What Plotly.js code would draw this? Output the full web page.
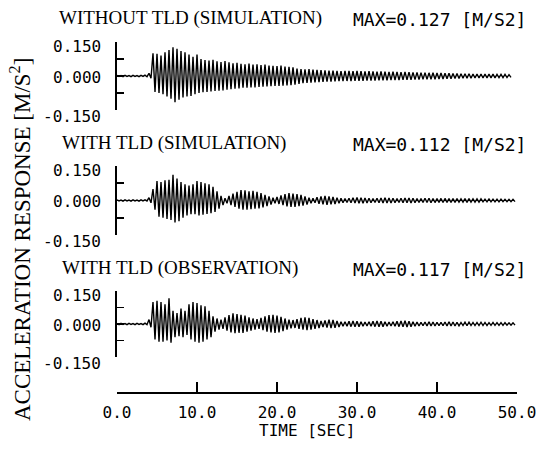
<!DOCTYPE html>
<html><head><meta charset="utf-8">
<script src="https://cdn.plot.ly/plotly-3.0.1.min.js"></script>
<style>html,body{margin:0;padding:0;background:#fff}#g{width:548px;height:450px}</style>
</head><body><div id="g"></div>
<script>
// ---- data ----
const PERIOD = 0.5; // seconds per oscillation cycle (peak + trough)
const panelTitles = ["WITHOUT TLD (SIMULATION)", "WITH TLD (SIMULATION)", "WITH TLD (OBSERVATION)"];
const maxLabels = ["MAX=0.127 [M/S2]", "MAX=0.112 [M/S2]", "MAX=0.117 [M/S2]"];
const yTickVals = [-0.15, -0.075, 0, 0.075, 0.15];
const yLabelText = ["0.150", "0.000", "-0.150"];
const xTickVals = [0, 10, 20, 30, 40, 50];
const xTickText = ["0.0", "10.0", "20.0", "30.0", "40.0", "50.0"];

// positive peaks / negative troughs per cycle [m/s2]
const up1 = [0.003,0.002,0.003,0.002,0.003,0.002,0.003,0.004,0.012,
 0.100,0.098,0.090,0.105,0.115,0.127,0.120,0.110,0.105,0.095,0.085,
 0.095,0.075,0.070,0.068,0.072,0.065,0.062,0.066,0.060,0.056,
 0.058,0.054,0.052,0.055,0.050,0.052,0.048,0.050,0.046,0.045,
 0.044,0.046,0.042,0.040,0.038,0.033,0.030,0.029,0.030,0.028,
 0.027,0.026,0.025,0.024,0.024,0.023,0.022,0.023,0.022,0.021,
 0.022,0.021,0.020,0.021,0.020,0.019,0.020,0.019,0.018,0.019,
 0.018,0.017,0.018,0.017,0.016,0.016,0.015,0.015,0.014,0.014,
 0.013,0.013,0.012,0.012,0.011,0.011,0.010,0.010,0.010,0.009,
 0.009,0.009,0.008,0.008,0.008,0.007,0.007,0.007,0.006];
const dn1 = [0.002,0.003,0.002,0.003,0.002,0.003,0.002,0.003,0.010,
 0.070,0.075,0.080,0.090,0.100,0.116,0.105,0.095,0.090,0.088,0.080,
 0.075,0.072,0.070,0.068,0.066,0.065,0.064,0.060,0.058,0.056,
 0.055,0.052,0.052,0.050,0.050,0.048,0.047,0.046,0.045,0.044,
 0.044,0.043,0.042,0.040,0.038,0.035,0.032,0.030,0.029,0.028,
 0.027,0.026,0.025,0.025,0.024,0.023,0.023,0.022,0.022,0.021,
 0.021,0.021,0.020,0.020,0.020,0.019,0.019,0.019,0.018,0.018,
 0.018,0.017,0.017,0.017,0.016,0.016,0.015,0.015,0.014,0.014,
 0.013,0.013,0.012,0.012,0.011,0.011,0.010,0.010,0.010,0.009,
 0.009,0.009,0.008,0.008,0.008,0.007,0.007,0.007,0.006];

const up2 = [0.003,0.002,0.003,0.002,0.003,0.002,0.003,0.003,0.012,
 0.050,0.085,0.080,0.088,0.090,0.112,0.095,0.080,0.070,0.065,0.070,
 0.085,0.080,0.075,0.070,0.060,0.040,0.020,0.010,0.020,0.030,
 0.038,0.045,0.044,0.040,0.042,0.038,0.032,0.025,0.018,0.012,
 0.015,0.022,0.028,0.032,0.030,0.028,0.024,0.018,0.012,0.010,
 0.014,0.018,0.020,0.018,0.015,0.012,0.010,0.009,0.010,0.012,
 0.013,0.012,0.011,0.010,0.009,0.010,0.011,0.012,0.011,0.010,
 0.009,0.010,0.011,0.011,0.010,0.009,0.009,0.010,0.010,0.009,
 0.008,0.009,0.009,0.008,0.008,0.008,0.007,0.008,0.008,0.007,
 0.007,0.007,0.006,0.007,0.006,0.006,0.006,0.005,0.005,0.005];
const dn2 = [0.002,0.003,0.002,0.003,0.002,0.003,0.002,0.002,0.010,
 0.040,0.070,0.075,0.080,0.085,0.095,0.090,0.075,0.065,0.060,0.060,
 0.065,0.062,0.058,0.055,0.050,0.035,0.020,0.012,0.020,0.028,
 0.035,0.040,0.040,0.038,0.036,0.034,0.030,0.024,0.018,0.012,
 0.015,0.020,0.026,0.028,0.028,0.025,0.022,0.018,0.012,0.010,
 0.014,0.017,0.019,0.017,0.015,0.012,0.010,0.009,0.010,0.011,
 0.012,0.012,0.011,0.010,0.009,0.010,0.011,0.011,0.011,0.010,
 0.009,0.010,0.010,0.011,0.010,0.009,0.009,0.009,0.010,0.009,
 0.008,0.009,0.008,0.008,0.008,0.007,0.007,0.008,0.007,0.007,
 0.007,0.006,0.006,0.006,0.006,0.006,0.005,0.005,0.005,0.005];

const up3 = [0.002,0.003,0.002,0.003,0.002,0.003,0.002,0.004,0.020,
 0.100,0.105,0.100,0.090,0.117,0.060,0.050,0.070,0.060,0.090,0.100,
 0.095,0.085,0.080,0.060,0.035,0.025,0.020,0.030,0.040,0.048,
 0.045,0.042,0.038,0.030,0.025,0.022,0.028,0.035,0.040,0.042,
 0.038,0.032,0.025,0.020,0.018,0.022,0.028,0.030,0.028,0.022,
 0.018,0.014,0.016,0.020,0.018,0.014,0.010,0.010,0.012,0.014,
 0.012,0.010,0.009,0.010,0.012,0.014,0.012,0.010,0.009,0.010,
 0.012,0.014,0.015,0.013,0.010,0.009,0.008,0.009,0.010,0.009,
 0.008,0.008,0.009,0.010,0.009,0.008,0.007,0.008,0.008,0.007,
 0.007,0.008,0.007,0.006,0.007,0.006,0.006,0.006,0.005,0.005];
const dn3 = [0.003,0.002,0.003,0.002,0.003,0.002,0.003,0.003,0.015,
 0.070,0.080,0.080,0.075,0.085,0.060,0.055,0.060,0.050,0.070,0.080,
 0.085,0.080,0.070,0.060,0.035,0.025,0.022,0.030,0.038,0.042,
 0.040,0.040,0.035,0.030,0.025,0.022,0.028,0.035,0.038,0.040,
 0.038,0.032,0.025,0.020,0.018,0.022,0.026,0.028,0.026,0.022,
 0.018,0.014,0.016,0.019,0.017,0.014,0.010,0.010,0.012,0.013,
 0.012,0.010,0.009,0.010,0.012,0.013,0.012,0.010,0.009,0.010,
 0.012,0.013,0.014,0.012,0.010,0.009,0.008,0.009,0.009,0.009,
 0.008,0.008,0.009,0.009,0.009,0.008,0.007,0.008,0.007,0.007,
 0.007,0.007,0.007,0.006,0.006,0.006,0.006,0.005,0.005,0.005];

// ---- layout helpers (pixel -> paper) ----
const W = 548, H = 450, ML = 117, MR = 31, PW = W - ML - MR;
const fx = p => (p - ML) / PW;
const fy = p => 1 - p / H;

function wave(up, dn) {
  const x = [], y = [];
  for (let i = 0; i < up.length; i++) {
    x.push(i * PERIOD); y.push(up[i]);
    x.push(i * PERIOD + PERIOD / 2); y.push(-dn[i]);
  }
  return {x, y};
}

const series = [[up1, dn1], [up2, dn2], [up3, dn3]];
const yRefs = ["y", "y2", "y3"];
const traces = series.map((s, k) => {
  const w = wave(s[0], s[1]);
  return {x: w.x, y: w.y, xaxis: "x", yaxis: yRefs[k], type: "scatter", mode: "lines",
          line: {color: "#000", width: 1.4}, hoverinfo: "skip", showlegend: false};
});

const serif = "Liberation Serif, Times New Roman, serif";
const plotter = "DejaVu Sans Mono, monospace";
const domains = [[110, 42], [235, 166], [357, 291]]; // [bottom px, top px]
const titleY = [18, 143, 268];
const titleX = [57, 60, 60];

function yAxis(k) {
  return {
    domain: [fy(domains[k][0]), fy(domains[k][1])],
    range: [-0.15, 0.15], anchor: "x",
    showline: true, linecolor: "#000", linewidth: 1.7,
    ticks: "inside", ticklen: 7, tickwidth: 1.7, tickcolor: "#000",
    tickvals: yTickVals, showticklabels: false,
    showgrid: false, zeroline: false, fixedrange: true
  };
}

const annotations = [];
for (let k = 0; k < 3; k++) {
  annotations.push({text: panelTitles[k], xref: "paper", yref: "paper",
    x: fx(titleX[k]), y: fy(titleY[k]), xanchor: "left", yanchor: "middle",
    showarrow: false, font: {family: serif, size: 19, color: "#000"}});
  annotations.push({text: maxLabels[k], xref: "paper", yref: "paper",
    x: fx(528), y: fy(titleY[k] + 1), xanchor: "right", yanchor: "middle",
    showarrow: false, font: {family: plotter, size: 18, color: "#000"}});
  // y tick labels, placed as in the original plot (slightly offset from the bracket)
  const bot = domains[k][0], top = domains[k][1], mid = (bot + top) / 2;
  const ly = [top + 4, mid + 1, bot + 6];
  for (let j = 0; j < 3; j++) {
    annotations.push({text: yLabelText[j], xref: "paper", yref: "paper",
      x: fx(103), y: fy(ly[j]), xanchor: "right", yanchor: "middle",
      showarrow: false, font: {family: plotter, size: 16, color: "#000"}});
  }
}
annotations.push({text: "ACCELERATION RESPONSE [M/S<sup>2</sup>]", xref: "paper", yref: "paper",
  x: fx(20), y: fy(240), xanchor: "center", yanchor: "middle", textangle: -90,
  showarrow: false, font: {family: serif, size: 23, color: "#000"}});
annotations.push({text: "TIME [SEC]", xref: "paper", yref: "paper",
  x: fx(307), y: fy(430), xanchor: "center", yanchor: "middle",
  showarrow: false, font: {family: plotter, size: 16, color: "#000"}});

const layout = {
  width: W, height: H,
  margin: {l: ML, r: MR, t: 0, b: 0, pad: 0},
  paper_bgcolor: "#fff", plot_bgcolor: "#fff",
  showlegend: false,
  xaxis: {
    domain: [0, 1], range: [0, 50], anchor: "free", position: fy(392),
    showline: true, linecolor: "#000", linewidth: 1.7,
    ticks: "inside", ticklen: 10, tickwidth: 1.7, tickcolor: "#000",
    tickvals: xTickVals, ticktext: xTickText,
    tickfont: {family: plotter, size: 16, color: "#000"},
    ticklabelstandoff: 5,
    showgrid: false, zeroline: false, fixedrange: true
  },
  yaxis: yAxis(0), yaxis2: yAxis(1), yaxis3: yAxis(2),
  annotations: annotations
};

Plotly.newPlot("g", traces, layout, {staticPlot: true, displayModeBar: false});
</script>
</body></html>
